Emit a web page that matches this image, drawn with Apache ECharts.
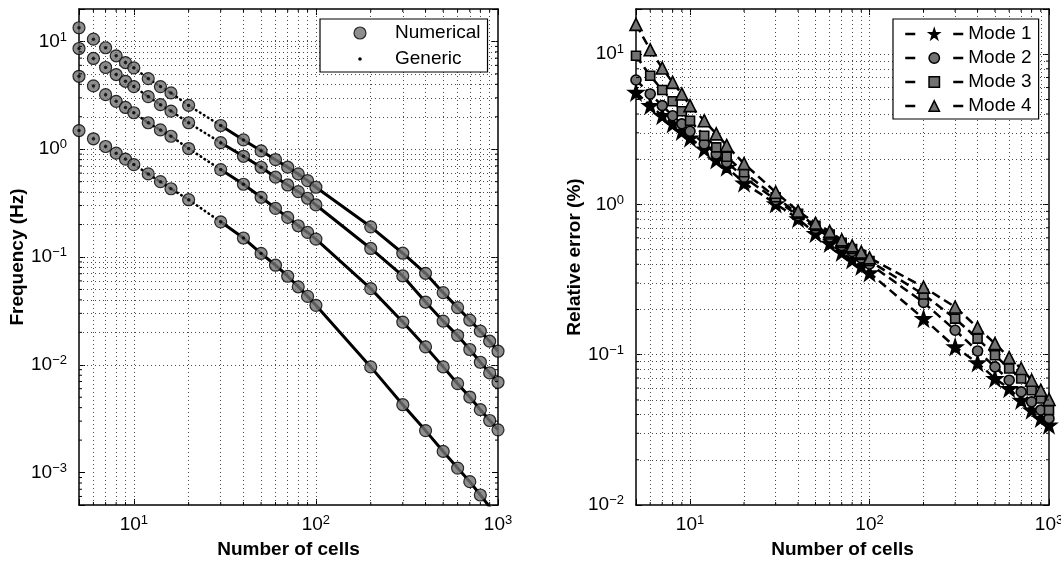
<!DOCTYPE html>
<html><head><meta charset="utf-8">
<script src="https://cdn.jsdelivr.net/npm/echarts@6/dist/echarts.min.js"></script>
<style>html,body{margin:0;padding:0;background:#fff;}#c{width:1061px;height:566px;}</style>
</head><body><div id="c"></div>
<script>
// ---------- data ----------
const cells = [5,6,7,8,9,10,12,14,16,20,30,40,50,60,70,80,90,100,200,300,400,500,600,700,800,900,1000];

const freqMode1 = [1.49,1.25,1.06,0.92,0.81,0.72,0.59,0.50,0.43,0.34,0.212,0.150,0.108,0.0839,0.0663,0.0529,0.0431,0.0356,0.00956,0.00426,0.00245,0.00157,0.00110,0.000823,0.000619,0.00048,0.00038];
const freqMode2 = [4.75,3.87,3.21,2.78,2.44,2.18,1.76,1.51,1.32,1.015,0.647,0.473,0.358,0.283,0.233,0.195,0.169,0.1465,0.0509,0.0249,0.01468,0.00956,0.00668,0.00502,0.00383,0.00304,0.00249];
const freqMode3 = [8.6,6.95,5.73,4.93,4.27,3.81,3.08,2.59,2.26,1.76,1.15,0.86,0.68,0.550,0.466,0.404,0.351,0.304,0.120,0.0667,0.0382,0.0254,0.0187,0.01386,0.01055,0.00841,0.00688];
const freqMode4 = [13.4,10.5,8.74,7.36,6.37,5.69,4.52,3.81,3.33,2.55,1.66,1.22,0.966,0.80,0.681,0.590,0.511,0.444,0.1906,0.1084,0.0706,0.0467,0.0339,0.0260,0.0205,0.01655,0.01336];

const errMode1 = [5.57,4.55,3.90,3.44,3.07,2.77,2.34,1.98,1.77,1.39,1.01,0.804,0.641,0.551,0.480,0.428,0.387,0.351,0.174,0.1127,0.0882,0.0695,0.0596,0.0498,0.0428,0.0377,0.0340];
const errMode2 = [6.74,5.44,4.55,3.90,3.44,3.07,2.53,2.17,1.91,1.52,1.075,0.845,0.693,0.608,0.534,0.487,0.441,0.402,0.223,0.1455,0.106,0.0830,0.0677,0.0566,0.0486,0.0428,0.0377];
const errMode3 = [9.77,7.19,5.78,4.86,4.17,3.61,2.87,2.40,2.08,1.64,1.118,0.868,0.720,0.632,0.555,0.506,0.461,0.421,0.252,0.174,0.128,0.0992,0.0810,0.0695,0.0581,0.0512,0.0428];
const errMode4 = [15.8,10.7,8.09,6.50,5.44,4.55,3.61,2.95,2.47,1.87,1.207,0.903,0.751,0.662,0.581,0.530,0.482,0.441,0.282,0.2078,0.1516,0.1187,0.0958,0.0810,0.0677,0.0581,0.0504];

const modeNames = ['Mode 1','Mode 2','Mode 3','Mode 4'];
const leftLegendNames = ['Numerical','Generic'];
const xTickLabels = [10,100,1000];
const freqTickLabels = [0.001,0.01,0.1,1,10];
const errTickLabels = [0.01,0.1,1,10];

// grid (major + minor) positions
function decadeLines(e0, e1, lo, hi) {
  const out = [];
  for (let e = e0; e <= e1; e++) for (let k = 1; k <= 9; k++) {
    const v = +(k * Math.pow(10, e)).toPrecision(6);
    if (v > lo && v < hi) out.push(v);
  }
  return out;
}
const xGridLines = decadeLines(0, 3, 5, 1000);
const freqGridLines = decadeLines(-4, 1, 5e-4, 20);
const errGridLines = decadeLines(-2, 1, 0.01, 20);
function isDecade(v) { const e = Math.round(Math.log10(v)); return Math.abs(v / Math.pow(10, e) - 1) < 1e-6; }

// ---------- styling ----------
const FONT = '"Liberation Sans", Arial, Helvetica, sans-serif';
const GRAY = '#727272';
const STAR = 'path://M50,0L61.8,35.1L98.9,35.1L68.9,56.8L80.2,91.9L50,70.2L19.8,91.9L31.1,56.8L1.1,35.1L38.2,35.1Z';
const DOT_ICON = 'path://M0,0L0.01,0M60,12L60.01,12M28.2,6a1.8,1.8 0 1,0 3.6,0a1.8,1.8 0 1,0 -3.6,0Z';
const PANELS = [
  {xi: 0, yi: 0, left: 79, top: 9, width: 419, height: 496, ys: freqGridLines},
  {xi: 2, yi: 2, left: 636, top: 9, width: 413, height: 496, ys: errGridLines}
];

function pairs(vals, keep) {
  const out = [];
  cells.forEach((c, i) => { if (!keep || keep(c)) out.push([c, vals[i]]); });
  return out;
}
function powLabel(ticks) {
  return function (v) {
    for (const t of ticks) {
      if (Math.abs(v / t - 1) < 1e-6) {
        const e = Math.round(Math.log10(t));
        return '{b|10}{e|' + (e < 0 ? '\u2212' + (-e) : e) + '}';
      }
    }
    return '';
  };
}
const rich = {
  b: {fontSize: 19, fontFamily: FONT, color: '#000', lineHeight: 22},
  e: {fontSize: 13, fontFamily: FONT, color: '#000', lineHeight: 13, verticalAlign: 'top'}
};
const nameStyle = {fontSize: 19, fontWeight: 'bold', fontFamily: FONT, color: '#000'};

function axis(kind, gridIndex, pos, min, max, labels, ticks, name, nameGap) {
  const a = {
    type: 'log', logBase: 10, gridIndex, position: pos, min, max,
    axisLine: {show: true, onZero: false, lineStyle: {color: '#000', width: 1.5}},
    axisTick: {show: true, inside: true, length: 6, lineStyle: {color: '#000', width: 1}},
    axisLabel: {show: labels, formatter: powLabel(ticks), rich, margin: kind === 'x' ? 9 : 12,
      showMinLabel: true, showMaxLabel: true, hideOverlap: false},
    splitLine: {show: false}, minorTick: {show: false}, minorSplitLine: {show: false}
  };
  if (name) {
    a.name = name; a.nameLocation = 'middle'; a.nameGap = nameGap;
    a.nameTextStyle = nameStyle; a.nameMoveOverlap = false;
  }
  return a;
}

function gridSeries(xi, yi, xs, ys, anchor) {
  return {
    type: 'line', xAxisIndex: xi, yAxisIndex: yi, data: [anchor], symbol: 'none', showSymbol: false,
    lineStyle: {opacity: 0}, silent: true, z: 1, legendHoverLink: false,
    markLine: {
      silent: true, symbol: ['none', 'none'], label: {show: false}, animation: false, z: 1,
      emphasis: {disabled: true},
      lineStyle: {color: '#4a4a4a', width: 1, type: [1, 3]},
      data: xs.map(v => ({xAxis: v})).concat(ys.map(v => ({yAxis: v})))
    }
  };
}

const freqModes = [freqMode1, freqMode2, freqMode3, freqMode4];
const errModes = [errMode1, errMode2, errMode3, errMode4];

const series = [];
series.push(gridSeries(0, 0, xGridLines, freqGridLines, [5, 1]));
series.push(gridSeries(2, 2, xGridLines, errGridLines, [5, 1]));

freqModes.forEach(vals => {
  series.push({type: 'line', name: 'Generic', xAxisIndex: 0, yAxisIndex: 0, data: pairs(vals, c => c >= 30),
    symbol: 'none', showSymbol: false, color: '#000', lineStyle: {color: '#000', width: 3}, z: 2, silent: true});
});
freqModes.forEach(vals => {
  series.push({type: 'line', name: 'Generic', xAxisIndex: 0, yAxisIndex: 0, data: pairs(vals, c => c >= 10 && c <= 30),
    symbol: 'none', showSymbol: false, color: '#000',
    lineStyle: {color: '#000', width: 2.6, type: [0.5, 4.2], cap: 'round'}, z: 2, silent: true});
});
freqModes.forEach(vals => {
  series.push({type: 'scatter', name: 'Numerical', xAxisIndex: 0, yAxisIndex: 0, data: pairs(vals),
    symbol: 'circle', symbolSize: 12, itemStyle: {color: GRAY, borderColor: '#000', borderWidth: 1.2}, z: 3, silent: true});
});
freqModes.forEach(vals => {
  series.push({type: 'scatter', name: 'Generic', xAxisIndex: 0, yAxisIndex: 0, data: pairs(vals, c => c <= 50),
    symbol: 'circle', symbolSize: 3.5, itemStyle: {color: '#000'}, z: 4, silent: true});
});

const modeSymbols = [STAR, 'circle', 'rect', 'triangle'];
const modeSizes = [15, 10, 9, 12];
errModes.forEach((vals, k) => {
  const fill = k === 0 ? '#000' : GRAY;
  series.push({type: 'line', name: modeNames[k], xAxisIndex: 2, yAxisIndex: 2, data: pairs(vals),
    symbol: modeSymbols[k], symbolSize: modeSizes[k], showSymbol: true, color: fill,
    itemStyle: {color: fill, borderColor: '#000', borderWidth: 1.6},
    lineStyle: {color: '#000', width: 2.5, type: [9, 5]}, z: 3, silent: true});
});

const legendText = {fontSize: 19, fontFamily: FONT, color: '#000', lineHeight: 20};

const option = {
  animation: false,
  backgroundColor: '#fff',
  textStyle: {fontFamily: FONT},
  grid: PANELS.map(p => ({left: p.left, top: p.top, width: p.width, height: p.height, outerBoundsMode: 'none', containLabel: false})),
  xAxis: [
    axis('x', 0, 'bottom', 5, 1000, true, xTickLabels, 'Number of cells', 35),
    axis('x', 0, 'top', 5, 1000, false, xTickLabels),
    axis('x', 1, 'bottom', 5, 1000, true, xTickLabels, 'Number of cells', 35),
    axis('x', 1, 'top', 5, 1000, false, xTickLabels)
  ],
  yAxis: [
    axis('y', 0, 'left', 5e-4, 20, true, freqTickLabels, 'Frequency (Hz)', 52),
    axis('y', 0, 'right', 5e-4, 20, false, freqTickLabels),
    axis('y', 1, 'left', 0.01, 20, true, errTickLabels, 'Relative error (%)', 52),
    axis('y', 1, 'right', 0.01, 20, false, errTickLabels)
  ],
  legend: [
    {
      data: [
        {name: leftLegendNames[0], icon: 'circle', itemStyle: {borderWidth: 1.2}},
        {name: leftLegendNames[1], icon: DOT_ICON, itemStyle: {borderWidth: 0}}
      ],
      left: 320, top: 19, orient: 'vertical', itemWidth: 60, itemHeight: 12, itemGap: 6,
      padding: [4, 7, 3, 10], borderColor: '#000', borderWidth: 1.2, backgroundColor: '#fff',
      textStyle: legendText, selectedMode: false
    },
    {
      data: modeNames.map(n => ({name: n})),
      left: 893, top: 19, orient: 'vertical', itemWidth: 58, itemHeight: 13, itemGap: 4,
      padding: [5, 7, 3, 11], borderColor: '#000', borderWidth: 1.2, backgroundColor: '#fff',
      textStyle: legendText, selectedMode: false,
      lineStyle: {type: [10, 38], width: 2.5, color: '#000'},
      itemStyle: {borderWidth: 1.5}
    }
  ],
  series
};

const chart = echarts.init(document.getElementById('c'), null, {renderer: 'canvas'});
chart.setOption(option);

// minor ticks on all four sides (positions through the axes' own scales)
const tickEls = [];
const T = 3;
PANELS.forEach(p => {
  const bottom = p.top + p.height, right = p.left + p.width;
  xGridLines.filter(v => !isDecade(v)).forEach(v => {
    const x = chart.convertToPixel({xAxisIndex: p.xi}, v);
    tickEls.push({type: 'line', silent: true, z: 10, shape: {x1: x, y1: bottom, x2: x, y2: bottom - T}, style: {stroke: '#000', lineWidth: 1}});
    tickEls.push({type: 'line', silent: true, z: 10, shape: {x1: x, y1: p.top, x2: x, y2: p.top + T}, style: {stroke: '#000', lineWidth: 1}});
  });
  p.ys.filter(v => !isDecade(v)).forEach(v => {
    const y = chart.convertToPixel({yAxisIndex: p.yi}, v);
    tickEls.push({type: 'line', silent: true, z: 10, shape: {x1: p.left, y1: y, x2: p.left + T, y2: y}, style: {stroke: '#000', lineWidth: 1}});
    tickEls.push({type: 'line', silent: true, z: 10, shape: {x1: right, y1: y, x2: right - T, y2: y}, style: {stroke: '#000', lineWidth: 1}});
  });
});
chart.setOption({graphic: tickEls});
</script>
</body></html>
